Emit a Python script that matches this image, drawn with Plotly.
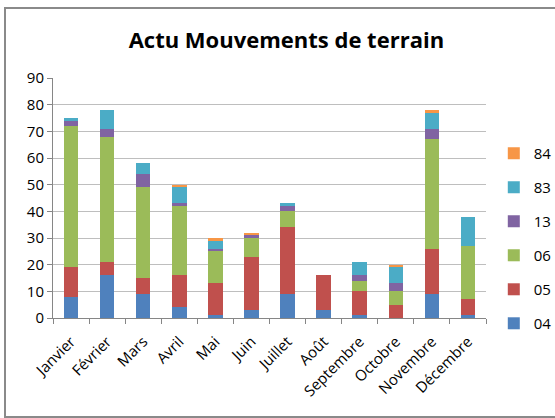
import plotly.graph_objects as go

months = ["Janvier", "Février", "Mars", "Avril", "Mai", "Juin", "Juillet",
          "Août", "Septembre", "Octobre", "Novembre", "Décembre"]
s04 = [8, 16, 9, 4, 1, 3, 9, 3, 1, 0, 9, 1]
s05 = [11, 5, 6, 12, 12, 20, 25, 13, 9, 5, 17, 6]
s06 = [53, 47, 34, 26, 12, 7, 6, 0, 4, 5, 41, 20]
s13 = [2, 3, 5, 1, 1, 1, 2, 0, 2, 3, 4, 0]
s83 = [1, 7, 4, 6, 3, 0, 1, 0, 5, 6, 6, 11]
s84 = [0, 0, 0, 1, 1, 1, 0, 0, 0, 1, 1, 0]

series = [("04", s04, "#4F81BD"), ("05", s05, "#C0504D"), ("06", s06, "#9BBB59"),
          ("13", s13, "#8064A2"), ("83", s83, "#4BACC6"), ("84", s84, "#F79646")]

fig = go.Figure()
for i, (name, vals, col) in enumerate(series):
    fig.add_trace(go.Bar(x=months, y=vals, name=name, marker_color=col,
                         marker_line_width=0, legendgroup=name,
                         legendrank=100 - i))

font = "'Open Sans', Lato, sans-serif"
fig.update_layout(
    width=555, height=418,
    barmode="stack", bargap=0.6,
    paper_bgcolor="white", plot_bgcolor="white",
    margin=dict(l=53, r=69, t=78, b=100, autoexpand=False),
    font=dict(family=font, color="#000000"),
    title=dict(text="<b>Actu Mouvements de terrain</b>", x=0.516, xanchor="center",
               y=0.904, yanchor="middle", font=dict(size=22, family=font, color="#000")),
    legend=dict(x=1.018, xanchor="left", y=0.754, yanchor="top",
                traceorder="grouped", tracegroupgap=11.5,
                font=dict(size=15, family=font), itemwidth=30),
    showlegend=True,
)
fig.update_xaxes(tickangle=-45, tickfont=dict(size=15, family=font),
                 showline=True, linecolor="#868686", linewidth=1,
                 ticks="outside", ticklen=5, tickcolor="#868686", tickson="boundaries",
                 ticklabelstandoff=8, showgrid=False)
fig.update_yaxes(range=[0, 90], dtick=10, tickfont=dict(size=15, family=font),
                 showline=True, linecolor="#868686", linewidth=1,
                 ticks="outside", ticklen=5, tickcolor="#868686",
                 showgrid=True, gridcolor="#BEBEBE", gridwidth=1, zeroline=False)
fig.add_shape(type="rect", xref="paper", yref="paper",
              x0=-48/433, x1=507/433, y0=-99/240, y1=1 + 70/240,
              line=dict(color="#8A8A8A", width=2), layer="below")
fig.write_html("out.html", config={"displayModeBar": False},
               post_script="document.body.style.margin='0px';")
